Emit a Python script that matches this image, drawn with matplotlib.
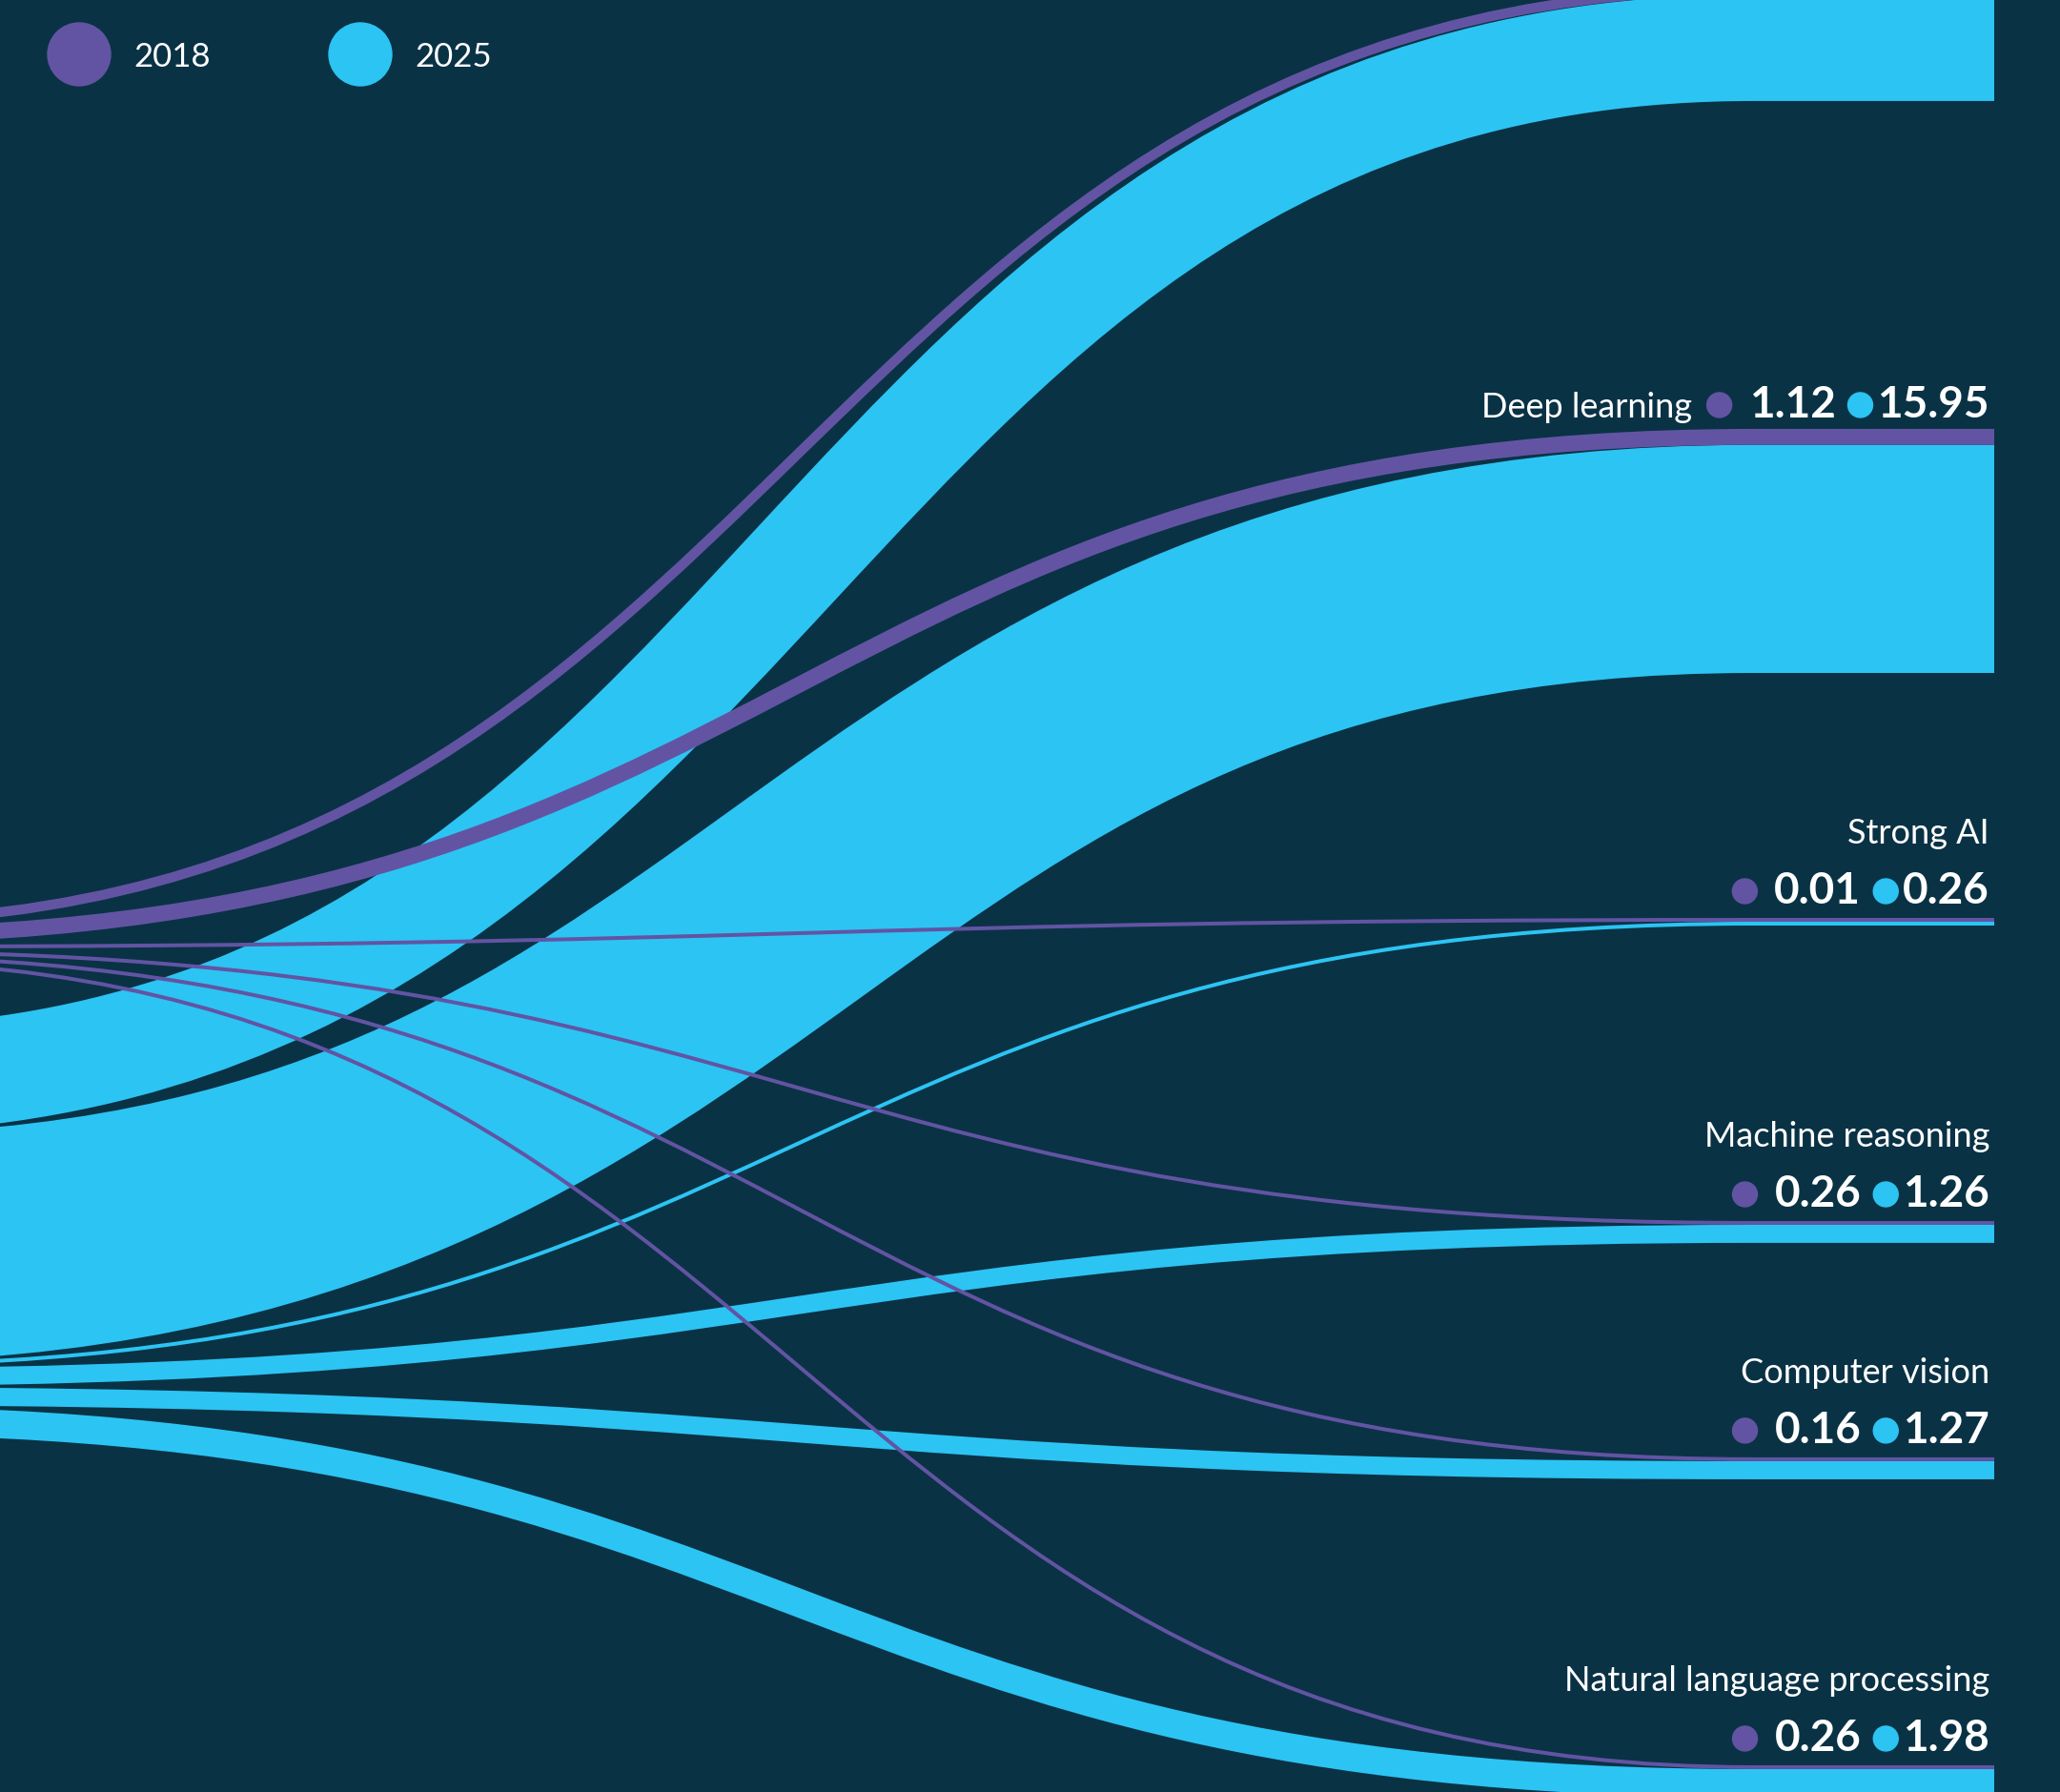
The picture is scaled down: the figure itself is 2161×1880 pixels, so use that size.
import matplotlib
matplotlib.use("Agg")
import matplotlib.pyplot as plt
from matplotlib.path import Path
from matplotlib.patches import PathPatch, Circle

# data (top category sits above the visible frame)
categories = ["Machine learning", "Deep learning", "Strong AI",
              "Machine reasoning", "Computer vision", "Natural language processing"]
values_2018 = [0.69, 1.12, 0.01, 0.26, 0.16, 0.26]
values_2025 = [7.44, 15.95, 0.26, 1.26, 1.27, 1.98]
labels_2018 = ["0.69", "1.12", "0.01", "0.26", "0.16", "0.26"]
labels_2025 = ["7.44", "15.95", "0.26", "1.26", "1.27", "1.98"]
years = ["2018", "2025"]

# style / layout
BG = "#0a3245"
PURPLE = "#6254a3"
CYAN = "#2cc4f3"
WHITE = "#ffffff"
W, H, DPI = 2161, 1880, 100
PX_PER_UNIT = 15.0
MIN_W = 4.0
X0, X1, XEND = -170, 1840, 2092
SRC_TOP = {"2018": 962.0, "2025": 1077.5}
LINK_GAP = 1.0
RIGHT_TOP = -16.0
RIGHT_GAPS = [344, 257, 310, 225, 300]
INLINE = ["Machine learning", "Deep learning"]

plt.rcParams["font.family"] = ["Lato", "DejaVu Sans"]

fig = plt.figure(figsize=(W / DPI, H / DPI), dpi=DPI)
fig.patch.set_facecolor(BG)
ax = fig.add_axes([0, 0, 1, 1])
ax.set_facecolor(BG)
ax.set_xlim(0, W)
ax.set_ylim(H, 0)
ax.axis("off")


def width(v):
    return max(v * PX_PER_UNIT, MIN_W)


# right side: purple directly above cyan for each category
right_tops = [RIGHT_TOP]
for i in range(1, len(categories)):
    prev_bottom = right_tops[-1] + width(values_2018[i - 1]) + width(values_2025[i - 1])
    right_tops.append(prev_bottom + RIGHT_GAPS[i - 1])


def link(y0, y1, w, color, z):
    xm = (X0 + X1) / 2
    verts = [(X0, y0), (xm, y0), (xm, y1), (X1, y1), (XEND, y1)]
    codes = [Path.MOVETO, Path.CURVE4, Path.CURVE4, Path.CURVE4, Path.LINETO]
    ax.add_patch(PathPatch(Path(verts, codes), fill=False, edgecolor=color,
                           linewidth=w * 72 / DPI, capstyle="butt", zorder=z))


for year, vals, color, z in [("2025", values_2025, CYAN, 1), ("2018", values_2018, PURPLE, 2)]:
    y = SRC_TOP[year]
    for i, v in enumerate(vals):
        w = width(v)
        src = y + w / 2
        top = right_tops[i] + (0 if year == "2018" else width(values_2018[i]))
        link(src, top + w / 2, w, color, z)
        y += w + LINK_GAP

# labels on the right
renderer = fig.canvas.get_renderer()
inv = ax.transData.inverted()
XR = 2087
R_DOT = 13


def left_of(t):
    bb = t.get_window_extent(renderer=renderer)
    return inv.transform((bb.x0, bb.y0))[0]


for i, cat in enumerate(categories):
    base = right_tops[i] - (12 if cat in INLINE else 15)
    if base < 60:
        continue  # label of the top category lies outside the frame
    t = ax.text(XR, base, labels_2025[i], ha="right", va="baseline",
                color=WHITE, fontsize=33, fontweight="bold")
    cx = left_of(t) - 5 - R_DOT
    ax.add_patch(Circle((cx, base - R_DOT), R_DOT, color=CYAN, zorder=5))
    t = ax.text(cx - R_DOT - 13, base, labels_2018[i], ha="right", va="baseline",
                color=WHITE, fontsize=33, fontweight="bold")
    cx = left_of(t) - 18 - R_DOT
    ax.add_patch(Circle((cx, base - R_DOT), R_DOT, color=PURPLE, zorder=5))
    if cat in INLINE:
        ax.text(cx - R_DOT - 16, base, cat, ha="right", va="baseline",
                color=WHITE, fontsize=26)
    else:
        ax.text(XR, base - 63, cat, ha="right", va="baseline",
                color=WHITE, fontsize=26)

# legend
for year, color, cx in [(years[0], PURPLE, 83), (years[1], CYAN, 378)]:
    ax.add_patch(Circle((cx, 57), 33, color=color, zorder=5))
    ax.text(cx + 57, 57, year, ha="left", va="center_baseline",
            color=WHITE, fontsize=25)

fig.savefig("out.png", dpi=DPI, facecolor=BG)
